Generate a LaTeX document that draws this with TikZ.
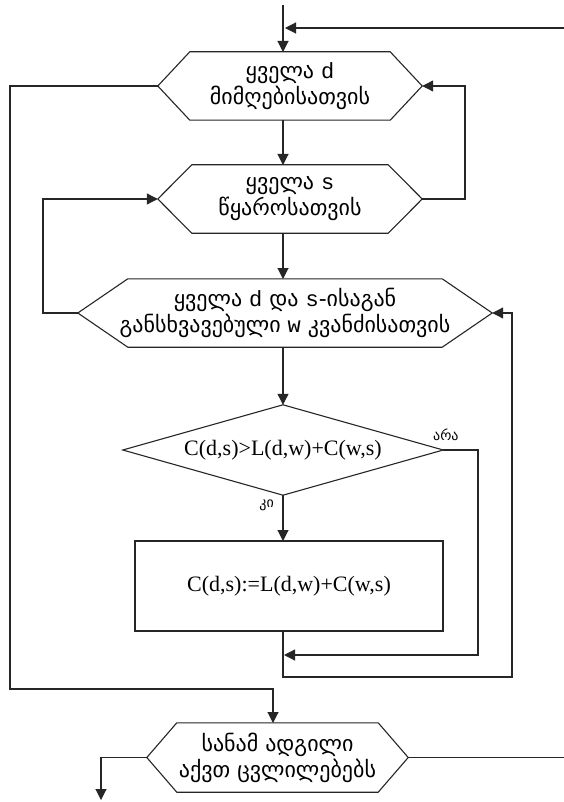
\documentclass[tikz,border=0pt]{standalone}
\usepackage{fontspec}
\setmainfont{DejaVu Sans}
\newfontfamily\geo{DejaVu Sans}
\newfontfamily\lat{Liberation Mono}
\newfontfamily\frm{Liberation Serif}
\usetikzlibrary{arrows.meta}

% hexagonal loop box drawn around a named node: #1 node, #2 chamfer (pt)
\newcommand\hexdraw[2]{%
  \draw[line] (#1.west) -- ([xshift=#2pt]#1.north west) -- ([xshift=-#2pt]#1.north east)
    -- (#1.east) -- ([xshift=-#2pt]#1.south east) -- ([xshift=#2pt]#1.south west) -- cycle;}

\begin{document}
\begin{tikzpicture}[x=1pt,y=-1pt,
  line/.style={line width=1.1pt, draw=black!85},
  arr/.style={line, -{Triangle[width=11pt,length=11pt]}},
  txt/.style={inner sep=0pt, align=center, font={\geo\fontsize{22}{26}\selectfont}},
  frmtxt/.style={inner sep=0pt, align=center, font={\frm\fontsize{22}{24}\selectfont}},
  lbl/.style={inner sep=0pt, font={\geo\fontsize{14}{16}\selectfont}}]

\fill[white] (0,0) rectangle (564,802);
\useasboundingbox (0,0) rectangle (564,802);

% node frames
\node[txt, minimum width=264pt, minimum height=68pt] (h1) at (290,86) {ყველა {\lat d}\\მიმღებისათვის};
\node[txt, minimum width=264pt, minimum height=68pt] (h2) at (290,199) {ყველა {\lat s}\\წყაროსათვის};
\node[txt, minimum width=414pt, minimum height=68pt] (h3) at (285,313) {ყველა {\lat d} და {\lat s}-ისაგან\\განსხვავებული {\lat w} კვანძისათვის};
\node[frmtxt, minimum width=320pt, minimum height=90pt] (cond) at (283,450) {C(d,s)>L(d,w)+C(w,s)};
\node[frmtxt, draw, line width=1.1pt, draw=black!85, minimum width=308pt, minimum height=90pt] (upd) at (289,586) {C(d,s):=L(d,w)+C(w,s)};
\node[txt, minimum width=261pt, minimum height=69pt] (h4) at (277.5,757.5) {სანამ ადგილი\\აქვთ ცვლილებებს};

\hexdraw{h1}{32}
\hexdraw{h2}{34}
\hexdraw{h3}{50}
\hexdraw{h4}{30}
\draw[line] (cond.west) -- (cond.north) -- (cond.east) -- (cond.south) -- cycle;

% branch labels
\node[lbl, anchor=south west] (no) at (433,441) {არა};
\node[lbl, anchor=north east] (yes) at (274,500) {კი};

% free ends
\coordinate (inTop) at (283,5);
\coordinate (inRight) at (564,28);
\coordinate (joinTop) at (285,28);
\coordinate (out) at (101,800);
\coordinate (outRight) at (564,757.5);

% connectors
\draw[arr] (inTop) -- (283,52);
\draw[arr] (inRight) -- (joinTop);
\draw[arr] (283,120) -- (283,165);
\draw[arr] (h2.east) -- (465,199) -- (465,86) -- (h1.east);
\draw[arr] (h1.west) -- (10,86) -- (10,689) -- (273,689) -- (273,723);
\draw[arr] (283,233) -- (283,279);
\draw[arr] (h3.west) -- (43,313) -- (43,199) -- (h2.west);
\draw[arr] (283,347) -- (cond.north);
\draw[arr] (cond.south) -- (283,541);
\draw[arr] (cond.east) -- (478,450) -- (478,655) -- (284,655);
\draw[arr] (283,631) -- (283,677) -- (512,677) -- (512,313) -- (h3.east);
\draw[arr] (h4.west) -- (101,757.5) -- (out);
\draw[line] (h4.east) -- (outRight);
\end{tikzpicture}
\end{document}
